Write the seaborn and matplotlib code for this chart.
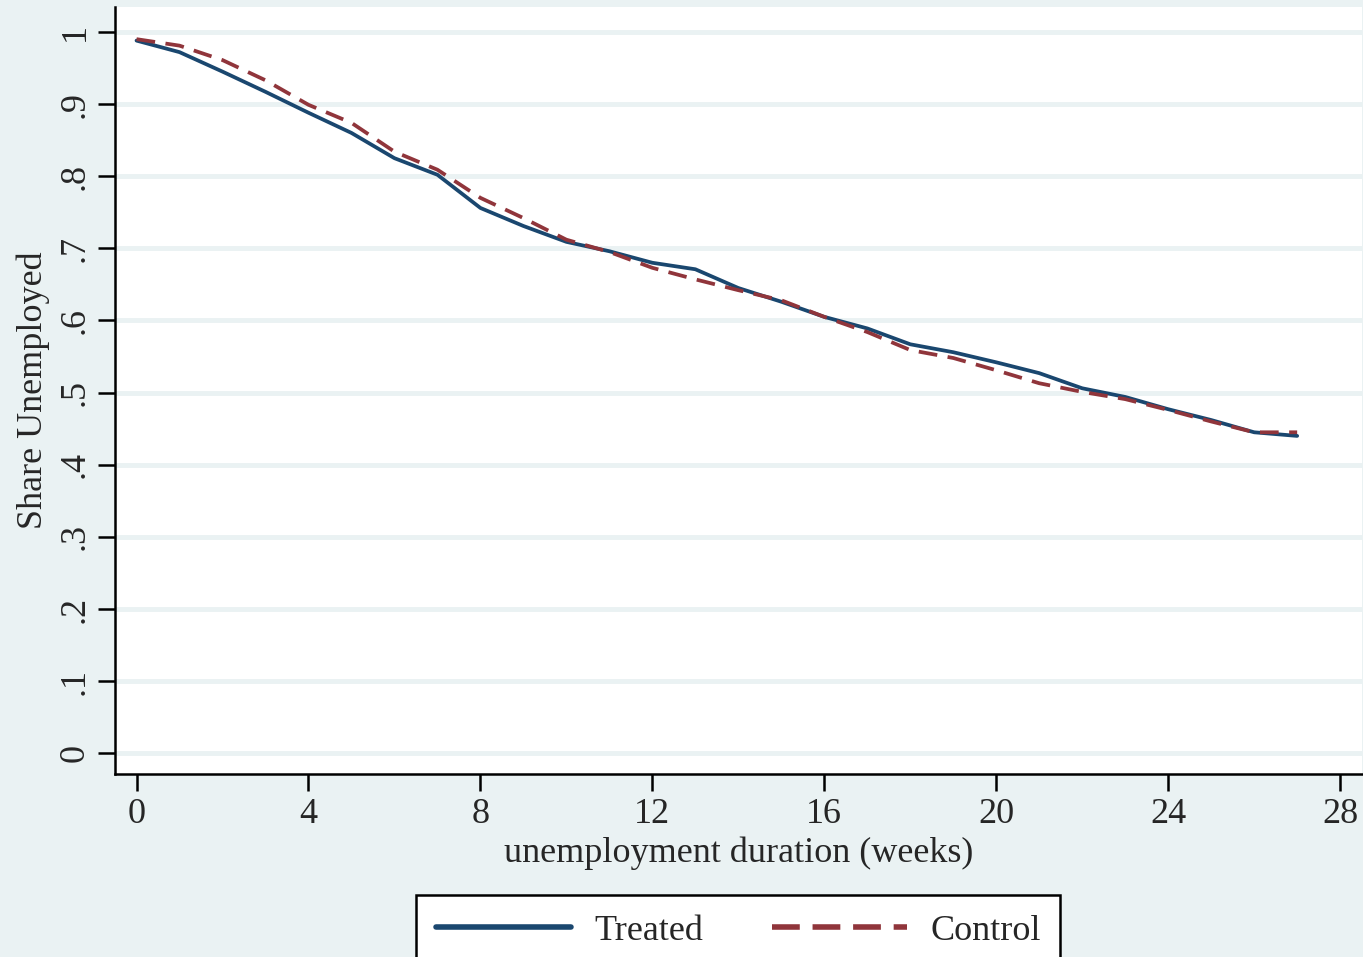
import pandas as pd
import matplotlib
matplotlib.use("Agg")
import matplotlib.pyplot as plt
import seaborn as sns

# Values
weeks = list(range(28))
treated = [0.988, 0.972, 0.945, 0.917, 0.888, 0.860, 0.825, 0.802, 0.756, 0.731,
           0.709, 0.696, 0.680, 0.671, 0.645, 0.626, 0.605, 0.589, 0.567, 0.556,
           0.542, 0.527, 0.506, 0.494, 0.477, 0.462, 0.445, 0.440]
control = [0.990, 0.981, 0.961, 0.933, 0.899, 0.874, 0.834, 0.809, 0.770, 0.742,
           0.712, 0.695, 0.673, 0.657, 0.642, 0.628, 0.605, 0.584, 0.559, 0.548,
           0.531, 0.513, 0.501, 0.491, 0.476, 0.460, 0.445, 0.445]
x_ticks = [0, 4, 8, 12, 16, 20, 24, 28]
y_ticks = [0, 0.1, 0.2, 0.3, 0.4, 0.5, 0.6, 0.7, 0.8, 0.9, 1.0]
y_labels = ["0", ".1", ".2", ".3", ".4", ".5", ".6", ".7", ".8", ".9", "1"]

df = pd.DataFrame({"weeks": weeks * 2,
                   "share": treated + control,
                   "group": ["Treated"] * len(weeks) + ["Control"] * len(weeks)})

sns.set_style("white")
plt.rcParams["font.family"] = ["Liberation Serif", "DejaVu Serif"]

bg = "#eaf2f3"
fs = 26
fig = plt.figure(figsize=(13.63, 9.57), dpi=100, facecolor=bg)
ax = fig.add_axes([0.0844, 0.191, 0.9146, 0.802])
ax.set_facecolor("white")

ax.set_yticks(y_ticks)
ax.grid(axis="y", color=bg, linewidth=3.5)
ax.set_axisbelow(True)

sns.lineplot(data=df, x="weeks", y="share", hue="group", style="group",
             palette={"Treated": "#1a476f", "Control": "#90353b"},
             dashes={"Treated": "", "Control": (5.0, 2.8)},
             linewidth=2.7, ax=ax, legend=False)

ax.set_xlim(-0.5, 28.5)
ax.set_ylim(-0.029, 1.035)
ax.set_xticks(x_ticks)
ax.set_yticklabels(y_labels, rotation=90, va="center")
ax.tick_params(axis="both", direction="out", length=12, width=1.8,
               labelsize=fs, color="black", pad=5, left=True, bottom=True)
ax.set_xlabel("unemployment duration (weeks)", fontsize=fs, labelpad=4)
ax.set_ylabel("Share Unemployed", fontsize=fs, labelpad=6)

for side in ["top", "right"]:
    ax.spines[side].set_visible(False)
for side in ["left", "bottom"]:
    ax.spines[side].set_linewidth(1.8)
    ax.spines[side].set_color("black")

# Legend box below the plot, partly cut by the figure edge
handles = [plt.Line2D([], [], color="#1a476f", linewidth=4),
           plt.Line2D([], [], color="#90353b", linewidth=4, linestyle=(0, (5.0, 2.3)))]
leg = fig.legend(handles, ["Treated", "Control"], loc="lower center",
                 bbox_to_anchor=(0.5415, -0.03), ncol=2, fontsize=fs,
                 frameon=True, fancybox=False, edgecolor="black", framealpha=1,
                 handlelength=3.75, columnspacing=1.9, handletextpad=0.64,
                 borderpad=0.55)
leg.get_frame().set_linewidth(1.8)
leg.get_frame().set_facecolor("white")

fig.savefig("out.png", dpi=100, facecolor=bg)
